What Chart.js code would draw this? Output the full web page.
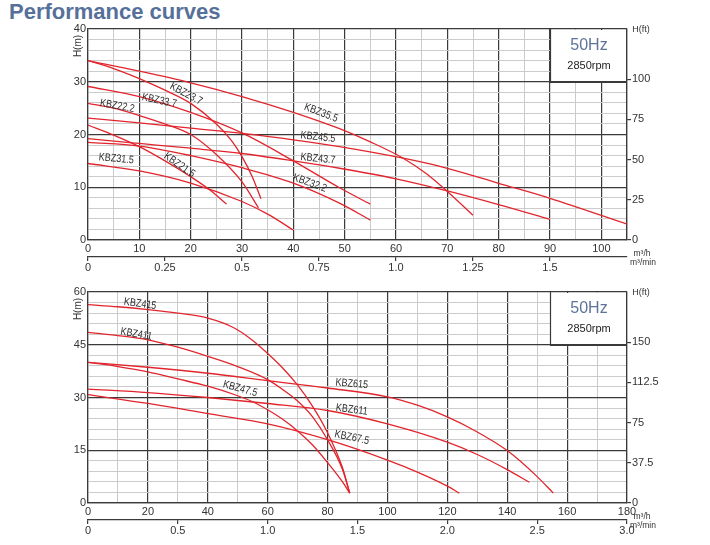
<!DOCTYPE html>
<html>
<head>
<meta charset="utf-8">
<script src="https://cdn.jsdelivr.net/npm/chart.js@4.4.0/dist/chart.umd.min.js"></script>
<style>
body { margin: 0; background: #fff; width: 710px; height: 545px; position: relative; overflow: hidden; }
#title { position: absolute; left: 9px; top: -1px; font: bold 22px "Liberation Sans", Arial, sans-serif; color: #56709a; }
canvas { position: absolute; left: 0; }
</style>
</head>
<body>
<div id="title">Performance curves</div>
<canvas id="topChart" width="710" height="280" style="top:0"></canvas>
<canvas id="bottomChart" width="710" height="265" style="top:280px"></canvas>
<script>
// Top chart: flow Q (m3/h) and head H (m)
const kbz215Q = [0, 5, 10, 15, 20, 24, 27];
const kbz215H = [21.8, 19.9, 17.7, 15.0, 12.0, 9.3, 6.8];
const kbz222Q = [0, 5, 10, 15, 20, 25, 30, 33.2];
const kbz222H = [25.9, 25.0, 23.6, 22.0, 20.0, 16.2, 11.0, 6.1];
const kbz237Q = [0, 5, 10, 15, 20, 25, 28, 30, 32, 33.7];
const kbz237H = [34, 32.5, 30.6, 28.4, 25.9, 22.0, 18.8, 15.8, 12.0, 7.8];
const kbz315Q = [0, 10, 20, 30, 35, 40];
const kbz315H = [14.5, 13.1, 10.8, 7.3, 4.9, 1.9];
const kbz322Q = [0, 10, 20, 30, 40, 49, 55];
const kbz322H = [18.5, 17.8, 16.0, 13.7, 10.8, 7.0, 3.8];
const kbz337Q = [0, 10, 20, 30, 40, 49, 55];
const kbz337H = [29.1, 27.2, 24.2, 20.3, 15.0, 9.9, 6.8];
const kbz355Q = [0, 10, 20, 30, 40, 49, 55, 61.4, 66, 70, 75];
const kbz355H = [34, 32.0, 29.8, 27.2, 24.2, 21.1, 18.6, 15.5, 12.5, 9.2, 4.7];
const kbz437Q = [0, 10, 20, 30, 40, 49, 60, 70, 80, 90];
const kbz437H = [19.2, 18.3, 17.4, 16.4, 15.0, 13.6, 11.6, 9.3, 6.7, 3.9];
const kbz455Q = [0, 10, 20, 30, 40, 49, 61.4, 70, 80, 90, 105];
const kbz455H = [23.1, 22.2, 21.2, 20.2, 19.0, 17.7, 15.5, 13.6, 10.75, 7.9, 3.0];

// Bottom chart
const kbz475Q = [0, 10, 20, 30, 40, 50, 55, 60, 65, 70, 75, 80, 85, 87.4];
const kbz475H = [40, 38.8, 37.3, 35.3, 33.2, 30.5, 28.8, 26.5, 23.8, 20.5, 16.5, 11.5, 6.0, 2.8];
const kbz411Q = [0, 10, 20, 30, 40, 50, 60, 65, 70, 75, 80, 85, 87.4];
const kbz411H = [48.5, 47.6, 46.4, 44.3, 41.7, 38.8, 35.1, 32.3, 29.0, 24.5, 18.0, 9.5, 2.8];
const kbz415Q = [0, 10, 20, 30, 40, 45, 50, 55, 60, 65, 70, 75, 80, 85, 87.4];
const kbz415H = [56.4, 55.8, 55.0, 54.0, 52.6, 51.2, 49.2, 46.2, 42.5, 38.4, 33.5, 27.5, 20.0, 10.0, 2.8];
const kbz675Q = [0, 20, 40, 60, 80, 100, 110, 120, 124];
const kbz675H = [30.8, 28.3, 25.4, 22.5, 18.0, 12.2, 8.8, 4.8, 2.8];
const kbz611Q = [0, 20, 40, 60, 80, 100, 120, 130, 140, 147.4];
const kbz611H = [32.4, 31.4, 30.0, 28.3, 26.3, 22.5, 17.3, 13.8, 9.5, 5.9];
const kbz615Q = [0, 20, 40, 60, 80, 100, 110, 120, 130, 140, 150, 155.4];
const kbz615H = [40, 38.6, 36.9, 34.8, 32.7, 30.2, 27.8, 24.5, 20.2, 14.9, 7.5, 2.8];

// axis ticks
const topFtTicks = [0, 25, 50, 75, 100];
const topMinTicks = [0, 0.25, 0.5, 0.75, 1.0, 1.25, 1.5];
const botFtTicks = [0, 37.5, 75, 112.5, 150];
const botMinTicks = [0, 0.5, 1.0, 1.5, 2.0, 2.5, 3.0];

const M_TO_FT = 3.28084;
const FONT = '"Liberation Sans Narrow", "Liberation Sans", Arial, sans-serif';
const MAJOR = '#3a3a3a';
const MINOR = '#cbcbcb';
const TXT = '#333';
const RED = '#e2252d';

function series(name, q, h) {
    return {
        label: name,
        data: q.map((v, i) => ({ x: v, y: h[i] })),
        showLine: true,
        borderColor: RED,
        borderWidth: 1.3,
        pointRadius: 0,
        cubicInterpolationMode: 'monotone'
    };
}

function fmt(v) {
    return Number.isInteger(v) && v > 0 && v < 10 ? v.toFixed(1) : String(v);
}

// curve names, 50Hz box, axis captions
function overlay(cfg) {
    return {
        id: 'overlay',
        beforeDatasetsDraw(chart) {
            const { ctx, chartArea: a, scales } = chart;
            const bx = Math.round(a.right - 77);
            const by = Math.round(scales.y.getPixelForValue(cfg.boxY));
            ctx.save();
            ctx.fillStyle = '#fff';
            ctx.fillRect(bx + 1, a.top + 1, a.right - bx - 2, by - a.top - 2);
            ctx.strokeStyle = MAJOR;
            ctx.lineWidth = 1.2;
            ctx.beginPath();
            ctx.moveTo(bx + 0.5, a.top);
            ctx.lineTo(bx + 0.5, by + 0.5);
            ctx.lineTo(a.right, by + 0.5);
            ctx.stroke();
            ctx.restore();
        },
        afterDraw(chart) {
            const { ctx, chartArea: a, scales } = chart;
            ctx.save();
            ctx.textAlign = 'center';
            ctx.textBaseline = 'middle';
            // box text
            const cx = a.right - 38;
            ctx.fillStyle = '#5d7398';
            ctx.font = '16px "Liberation Sans", Arial, sans-serif';
            ctx.fillText('50Hz', cx, a.top + 16.5);
            ctx.fillStyle = '#222';
            ctx.font = '11px "Liberation Sans", Arial, sans-serif';
            ctx.fillText('2850rpm', cx, a.top + 37);

            // curve labels
            ctx.fillStyle = '#2e2e2e';
            ctx.font = '11px "Liberation Sans", Arial, sans-serif';
            cfg.labels.forEach(l => {
                ctx.save();
                ctx.translate(scales.x.getPixelForValue(l.x), scales.y.getPixelForValue(l.y));
                ctx.rotate(l.rot * Math.PI / 180);
                ctx.scale(0.82, 1);
                ctx.fillText(l.text, 0, 0);
                ctx.restore();
            });

            // axis captions
            ctx.font = '10px ' + FONT;
            ctx.fillStyle = TXT;
            ctx.save();
            ctx.translate(a.left - 10, a.top + 17);
            ctx.rotate(-Math.PI / 2);
            ctx.fillText('H(m)', 0, 0);
            ctx.restore();
            ctx.font = '9px ' + FONT;
            ctx.fillText('H(ft)', a.right + 14, a.top + 1);
            ctx.font = '8.5px ' + FONT;
            ctx.fillText('m³/h', a.right + 15, a.bottom + 14);
            ctx.fillText('m³/min', a.right + 16, a.bottom + 23);
            ctx.restore();
        }
    };
}

function makeChart(id, cfg) {
    const tickFont = { family: FONT, size: 11 };
    return new Chart(document.getElementById(id), {
        type: 'scatter',
        data: { datasets: cfg.datasets },
        options: {
            responsive: false,
            animation: false,
            layout: { padding: { top: cfg.padTop, bottom: cfg.padBottom, left: 0, right: 0 } },
            plugins: { legend: { display: false }, tooltip: { enabled: false } },
            scales: {
                x: {
                    type: 'linear', position: 'bottom', min: 0, max: cfg.xMax,
                    ticks: {
                        stepSize: cfg.xStep, autoSkip: false, maxRotation: 0, padding: 2,
                        color: TXT, font: tickFont,
                        callback: v => (v % cfg.xMajor === 0 ? String(v) : '')
                    },
                    grid: {
                        drawTicks: false,
                        color: c => (c.tick && c.tick.value % cfg.xMajor === 0 ? MAJOR : MINOR),
                        lineWidth: c => (c.tick && c.tick.value % cfg.xMajor === 0 ? 1.2 : 1)
                    },
                    border: { color: MAJOR, width: 1.2 },
                    afterFit: s => { s.height = 17; }
                },
                x2: {
                    type: 'linear', position: 'bottom', min: 0, max: cfg.xMax / 60,
                    afterBuildTicks: s => { s.ticks = cfg.minTicks.map(v => ({ value: v })); },
                    ticks: { autoSkip: false, maxRotation: 0, padding: 0, color: TXT, font: tickFont, callback: v => fmt(v) },
                    grid: { drawOnChartArea: false, drawTicks: true, tickLength: 4, color: MAJOR, lineWidth: 1.2 },
                    border: { color: MAJOR, width: 1.2 },
                    afterFit: s => { s.height = 22; }
                },
                y: {
                    type: 'linear', position: 'left', min: 0, max: cfg.yMax,
                    ticks: {
                        stepSize: cfg.yStep, autoSkip: false, padding: 2, color: TXT, font: tickFont,
                        callback: v => (v % cfg.yMajor === 0 ? String(v) : '')
                    },
                    grid: {
                        drawTicks: false,
                        color: c => (c.tick && c.tick.value % cfg.yMajor === 0 ? MAJOR : MINOR),
                        lineWidth: c => (c.tick && c.tick.value % cfg.yMajor === 0 ? 1.2 : 1)
                    },
                    border: { color: MAJOR, width: 1.2 },
                    afterFit: s => { s.width = 88; }
                },
                y2: {
                    type: 'linear', position: 'right', min: 0, max: cfg.yMax * M_TO_FT,
                    afterBuildTicks: s => { s.ticks = cfg.ftTicks.map(v => ({ value: v })); },
                    ticks: { autoSkip: false, padding: 1, color: TXT, font: tickFont, callback: v => String(v) },
                    grid: { drawOnChartArea: false, drawTicks: true, tickLength: 4, color: MAJOR, lineWidth: 1.2 },
                    border: { color: MAJOR, width: 1.2 },
                    afterFit: s => { s.width = 83; }
                }
            }
        },
        plugins: [overlay(cfg)]
    });
}

makeChart('topChart', {
    datasets: [
        series('KBZ21.5', kbz215Q, kbz215H),
        series('KBZ22.2', kbz222Q, kbz222H),
        series('KBZ23.7', kbz237Q, kbz237H),
        series('KBZ31.5', kbz315Q, kbz315H),
        series('KBZ32.2', kbz322Q, kbz322H),
        series('KBZ33.7', kbz337Q, kbz337H),
        series('KBZ35.5', kbz355Q, kbz355H),
        series('KBZ43.7', kbz437Q, kbz437H),
        series('KBZ45.5', kbz455Q, kbz455H)
    ],
    padTop: 29, padBottom: 1,
    xMax: 105, xStep: 5, xMajor: 10,
    yMax: 40, yStep: 2, yMajor: 10,
    ftTicks: topFtTicks, minTicks: topMinTicks,
    boxY: 30,
    labels: [
        { text: 'KBZ23.7', x: 19.1, y: 27.7, rot: 28 },
        { text: 'KBZ33.7', x: 13.9, y: 26.4, rot: 12 },
        { text: 'KBZ22.2', x: 5.7, y: 25.4, rot: 10 },
        { text: 'KBZ35.5', x: 45.4, y: 24.1, rot: 21 },
        { text: 'KBZ45.5', x: 44.8, y: 19.5, rot: 6 },
        { text: 'KBZ43.7', x: 44.8, y: 15.4, rot: 6 },
        { text: 'KBZ32.2', x: 43.2, y: 10.8, rot: 20 },
        { text: 'KBZ21.5', x: 17.8, y: 14.2, rot: 35 },
        { text: 'KBZ31.5', x: 5.5, y: 15.4, rot: 5 }
    ]
});

makeChart('bottomChart', {
    datasets: [
        series('KBZ47.5', kbz475Q, kbz475H),
        series('KBZ411', kbz411Q, kbz411H),
        series('KBZ415', kbz415Q, kbz415H),
        series('KBZ67.5', kbz675Q, kbz675H),
        series('KBZ611', kbz611Q, kbz611H),
        series('KBZ615', kbz615Q, kbz615H)
    ],
    padTop: 12, padBottom: 3,
    xMax: 180, xStep: 10, xMajor: 20,
    yMax: 60, yStep: 3, yMajor: 15,
    ftTicks: botFtTicks, minTicks: botMinTicks,
    boxY: 45,
    labels: [
        { text: 'KBZ415', x: 17.4, y: 56.6, rot: 8 },
        { text: 'KBZ411', x: 16.1, y: 48.0, rot: 10 },
        { text: 'KBZ47.5', x: 50.8, y: 32.5, rot: 15 },
        { text: 'KBZ615', x: 88.1, y: 33.9, rot: 5 },
        { text: 'KBZ611', x: 88.1, y: 26.5, rot: 7 },
        { text: 'KBZ67.5', x: 88.1, y: 18.6, rot: 12 }
    ]
});
</script>
</body>
</html>
